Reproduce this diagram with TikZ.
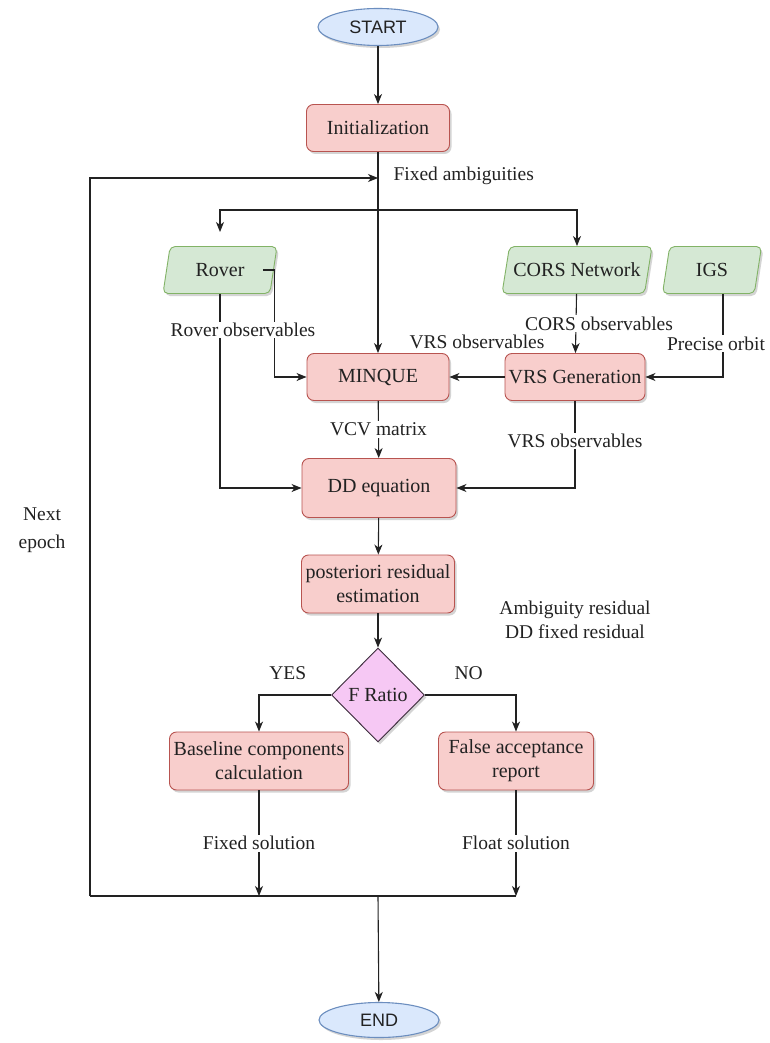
\documentclass[tikz,border=0pt]{standalone}
\usepackage{fontspec}
\setmainfont{Liberation Serif}
\newfontfamily\termfont{Liberation Sans}
\usetikzlibrary{shapes.geometric,arrows.meta,shadows}

\definecolor{procfill}{HTML}{F8CECC}
\definecolor{procline}{HTML}{B85450}
\definecolor{datafill}{HTML}{D5E8D4}
\definecolor{dataline}{HTML}{82B366}
\definecolor{termfill}{HTML}{DAE8FC}
\definecolor{termline}{HTML}{6C8EBF}
\definecolor{decfill}{HTML}{F6C8F4}
\definecolor{decline}{HTML}{3A2A3A}
\definecolor{ink}{HTML}{222222}

\tikzset{
  boxshadow/.style={drop shadow={shadow xshift=2pt, shadow yshift=-2.5pt, opacity=0.3, fill=black!55}},
  proc/.style={rectangle, rounded corners=7pt, draw=procline, fill=procfill, line width=0.9pt,
    text=ink, align=center, font=\fontsize{20}{24}\selectfont, inner sep=2pt, boxshadow},
  data/.style={trapezium, trapezium left angle=65, trapezium right angle=115,
    trapezium stretches body, rounded corners=5pt, draw=dataline, fill=datafill, line width=0.9pt,
    text=ink, font=\fontsize{20}{24}\selectfont, inner sep=1pt, boxshadow},
  term/.style={ellipse, draw=termline, fill=termfill, line width=1.1pt, text=ink,
    font=\termfont\fontsize{18}{20}\selectfont, inner sep=0pt, boxshadow},
  decision/.style={diamond, aspect=1, draw=decline, fill=decfill, line width=0.9pt, text=ink,
    font=\fontsize{20}{24}\selectfont, inner sep=1pt, boxshadow},
  txt/.style={text=ink, font=\fontsize{19.5}{24}\selectfont, align=center},
  lbl/.style={txt, fill=white, inner sep=1.5pt},
  flow/.style={draw=ink, line width=1.1pt, -{Stealth[length=10pt,width=8pt,inset=3pt]}},
  both/.style={draw=ink, line width=1.1pt,
    {Stealth[length=10pt,width=8pt,inset=3pt]}-{Stealth[length=10pt,width=8pt,inset=3pt]}},
  plain/.style={draw=ink, line width=1.1pt},
}

\begin{document}
\begin{tikzpicture}[x=1pt, y=-1pt]
  \fill[white] (0,0) rectangle (770,1043);
  \useasboundingbox (0,0) rectangle (770,1043);

  % terminals and process steps
  \node[term, minimum width=120pt, minimum height=37pt] (start) at (378,27) {START};
  \node[proc, minimum width=143pt, minimum height=47pt] (init) at (378,128) {Initialization};

  \node[data, minimum width=114pt, minimum height=47pt] (rover) at (220,270) {Rover};
  \node[data, minimum width=150pt, minimum height=47pt] (cors) at (577,270) {CORS Network};
  \node[data, minimum width=99pt,  minimum height=47pt] (igs) at (712,270) {IGS};

  \node[proc, minimum width=142pt, minimum height=47pt] (minque) at (378,377) {MINQUE};
  \node[proc, minimum width=140pt, minimum height=47pt] (vrs) at (575,377) {VRS Generation};
  \node[proc, minimum width=154pt, minimum height=59pt] (dd) at (379,488) {DD equation};
  \node[proc, minimum width=153pt, minimum height=58pt] (post) at (378,584) {posteriori residual\\estimation};
  \node[decision, minimum width=93pt, minimum height=94pt] (dec) at (378,695) {F Ratio};
  \node[proc, minimum width=179pt, minimum height=58pt] (base) at (259,761) {Baseline components\\calculation};
  \node[proc, minimum width=155pt, minimum height=58pt] (flt) at (516,761) {False acceptance\\report};
  \node[term, minimum width=120pt, minimum height=35pt] (end) at (379,1020) {END};

  % junction points of the loop
  \coordinate (loopbot) at (90,896);
  \coordinate (merge) at (378,896);
  \coordinate (fixin) at (378,178);
  \coordinate (roverin) at (220,232);

  % main flow
  \draw[flow] (start) -- (init);
  \draw[flow] (init) -- (minque);
  \draw[both] (roverin) -- ++(0,-22) -| (cors);
  \draw[flow] ([xshift=-11pt]rover.east) -- ++(12,0) |- (minque);
  \draw[flow] (rover) |- (dd);
  \draw[flow] (cors) -- node[lbl, xshift=23pt] {CORS observables} (vrs);
  \draw[flow] (vrs) -- node[txt, yshift=35pt] {VRS observables} (minque);
  \draw[flow] ([xshift=11pt]igs.south) |- node[lbl, pos=0.3, xshift=-7pt] {Precise orbit} (vrs);
  \draw[flow] (minque) -- node[lbl] {VCV matrix} (dd);
  \draw[flow] (vrs) |- node[lbl, pos=0.23] {VRS observables} (dd);
  \node[lbl] (roverobs) at (243,330) {Rover observables};

  \draw[flow] (dd) -- (post);
  \draw[flow] (post) -- (dec);
  \draw[flow] (dec.west) -| node[txt, pos=0.3, yshift=22pt] {YES} (base);
  \draw[flow] (dec.east) -| node[txt, pos=0.24, yshift=22pt] {NO} (flt);
  \node[txt] (residuals) at (575,620) {Ambiguity residual\\DD fixed residual};

  % solutions and the loop back to the next epoch
  \draw[flow] (base) -- node[lbl] {Fixed solution} (base |- merge);
  \draw[flow] (flt) -- node[lbl] {Float solution} (flt |- merge);
  \draw[plain] (loopbot) -- (flt |- merge);
  \draw[flow] (loopbot) |- (fixin);
  \node[txt, anchor=west] (fixamb) at (390,176) {Fixed ambiguities};
  \node[txt, font=\fontsize{19.5}{28}\selectfont] (nextep) at (42,530) {Next\\epoch};
  \draw[flow] (merge) -- (end);
\end{tikzpicture}
\end{document}
